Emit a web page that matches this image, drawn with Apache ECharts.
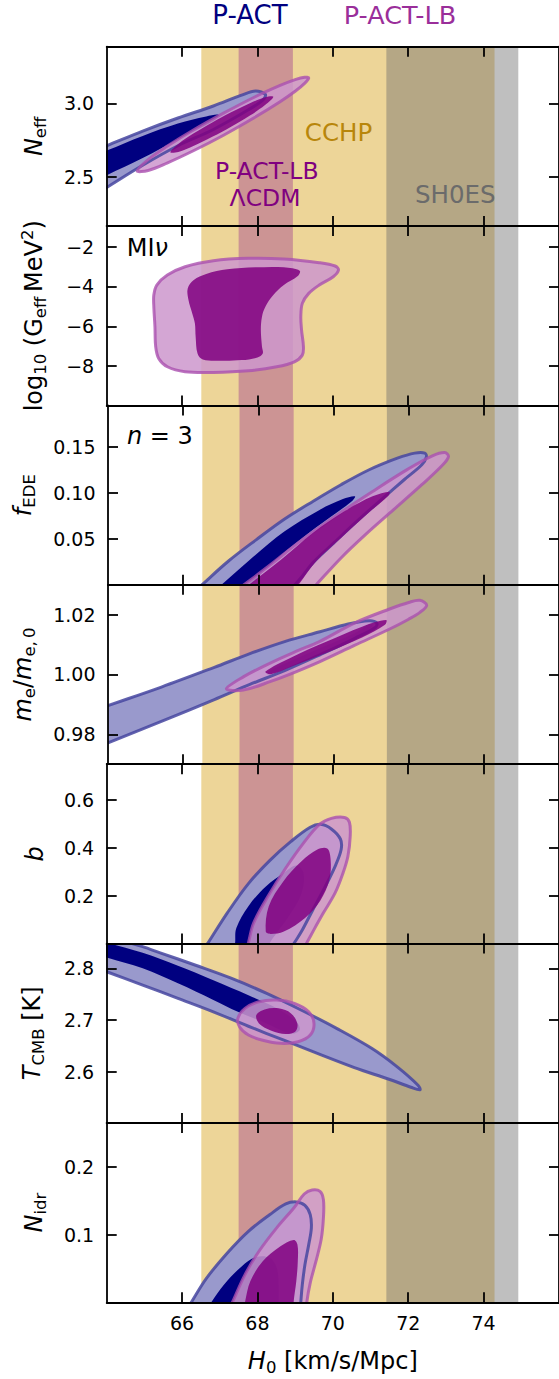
<!DOCTYPE html>
<html><head><meta charset="utf-8">
<script src="https://cdn.jsdelivr.net/npm/echarts@6/dist/echarts.min.js"></script>
<style>html,body{margin:0;padding:0;background:#fff}#c{width:559px;height:1379px}</style>
</head><body><div id="c"></div>
<script>
// ---------------- DATA ----------------
const H0_RANGE = [64, 76];
const H0_TICKS = [66, 68, 70, 72, 74];
const H0_TICK_LABELS = ['66', '68', '70', '72', '74'];

// 2-sigma H0 bands
const CCHP_BAND = [66.51, 74.29];
const LCDM_BAND = [67.50, 68.94];
const SH0ES_BAND = [71.42, 74.92];

// Panel y ranges, ticks and labels
const NEFF_RANGE = [2.164, 3.386];
const NEFF_TICKS = [2.5, 3.0];
const NEFF_TICK_LABELS = ['2.5', '3.0'];
const GEFF_RANGE = [-9.975, -0.965];
const GEFF_TICKS = [-8, -6, -4, -2];
const GEFF_TICK_LABELS = ['\u22128', '\u22126', '\u22124', '\u22122'];
const FEDE_RANGE = [0, 0.1955];
const FEDE_TICKS = [0.05, 0.10, 0.15];
const FEDE_TICK_LABELS = ['0.05', '0.10', '0.15'];
const ME_RANGE = [0.970, 1.030];
const ME_TICKS = [0.98, 1.00, 1.02];
const ME_TICK_LABELS = ['0.98', '1.00', '1.02'];
const B_RANGE = [0, 0.748];
const B_TICKS = [0.2, 0.4, 0.6];
const B_TICK_LABELS = ['0.2', '0.4', '0.6'];
const TCMB_RANGE = [2.501, 2.848];
const TCMB_TICKS = [2.6, 2.7, 2.8];
const TCMB_TICK_LABELS = ['2.6', '2.7', '2.8'];
const NIDR_RANGE = [0, 0.265];
const NIDR_TICKS = [0.1, 0.2];
const NIDR_TICK_LABELS = ['0.1', '0.2'];

// Contours [H0, parameter]; *_95 = outer, *_68 = inner
const NEFF_PACT_95 = [[63.5,2.66],[64.0,2.711],[64.955,2.811],[65.89,2.900],[66.83,2.982],[67.58,3.056],[67.95,3.084],[68.21,3.06],[68.14,3.022],[67.76,2.956],[66.83,2.822],[65.89,2.711],[64.955,2.578],[64.0,2.427],[63.5,2.348]];
const NEFF_PACT_68 = [[63.5,2.626],[64.0,2.678],[64.955,2.778],[65.89,2.862],[66.64,2.911],[66.97,2.922],[66.83,2.878],[65.89,2.756],[64.955,2.627],[64.0,2.511],[63.5,2.45]];
const NEFF_LB_95 = [[64.81,2.54],[65.1,2.617],[65.6,2.707],[66.3,2.818],[67.1,2.933],[67.9,3.040],[68.6,3.122],[69.0,3.162],[69.25,3.178],[69.36,3.172],[69.25,3.136],[69.0,3.082],[68.6,3.011],[67.9,2.900],[67.1,2.783],[66.3,2.677],[65.6,2.593],[65.1,2.543]];
const NEFF_LB_68 = [[65.69,2.667],[65.9,2.723],[66.3,2.794],[66.8,2.870],[67.3,2.939],[67.8,3.001],[68.2,3.042],[68.42,3.045],[68.2,2.988],[67.8,2.917],[67.3,2.841],[66.8,2.772],[66.3,2.710],[65.9,2.669]];

const GEFF_LB_95 = [[65.33,-3.927],[65.61,-3.425],[66.08,-3.006],[66.83,-2.704],[67.76,-2.587],[68.70,-2.620],[69.64,-2.804],[70.06,-2.972],[70.15,-3.173],[70.01,-3.508],[69.64,-3.927],[69.36,-4.346],[69.19,-4.849],[69.15,-5.519],[69.17,-6.190],[69.22,-7.028],[69.19,-7.447],[68.98,-7.782],[68.51,-8.033],[67.76,-8.234],[66.83,-8.318],[66.08,-8.285],[65.61,-8.033],[65.38,-7.614],[65.30,-7.028],[65.28,-6.022],[65.25,-5.017],[65.25,-4.430]];
const GEFF_LB_68 = [[66.15,-4.095],[66.31,-3.676],[66.64,-3.374],[67.20,-3.140],[67.95,-3.039],[68.70,-3.039],[69.12,-3.207],[69.07,-3.475],[68.70,-3.927],[68.42,-4.430],[68.21,-5.017],[68.12,-5.519],[68.09,-6.190],[68.12,-7.028],[68.14,-7.363],[68.0,-7.564],[67.58,-7.698],[67.01,-7.731],[66.55,-7.664],[66.41,-7.363],[66.36,-6.525],[66.34,-5.855],[66.27,-5.352],[66.17,-4.682]];

const FEDE_PACT_95 = [[65.96,-0.02],[66.50,0.0],[67.20,0.0257],[67.95,0.0493],[68.70,0.0717],[69.45,0.0909],[70.20,0.1091],[70.95,0.1254],[71.70,0.138],[72.16,0.1435],[72.43,0.1435],[72.47,0.1391],[72.35,0.1308],[71.88,0.1145],[71.32,0.0946],[70.67,0.071],[70.01,0.0457],[69.45,0.0239],[69.17,0.0094],[68.98,0.0004],[68.56,-0.02]];
const FEDE_PACT_68 = [[66.46,-0.02],[67.02,0.0],[67.76,0.0268],[68.70,0.0583],[69.64,0.0819],[70.25,0.0935],[70.57,0.0964],[70.48,0.0909],[69.92,0.0739],[69.17,0.0511],[68.42,0.0257],[67.81,0.0],[67.33,-0.02]];
const FEDE_LB_95 = [[66.97,-0.02],[67.62,0.0],[68.33,0.0221],[69.17,0.0493],[70.10,0.0764],[71.04,0.1018],[71.98,0.1261],[72.63,0.1406],[72.96,0.1442],[73.06,0.1399],[72.91,0.1308],[72.35,0.1091],[71.60,0.0819],[70.85,0.0547],[70.20,0.0293],[69.54,0.0],[69.09,-0.02]];
const FEDE_LB_68 = [[67.13,-0.02],[67.75,0.0],[68.61,0.0275],[69.45,0.0565],[70.29,0.0801],[71.04,0.0964],[71.49,0.1014],[71.46,0.0971],[70.95,0.079],[70.20,0.0511],[69.54,0.0257],[69.07,0.0],[68.70,-0.02]];

const ME_PACT_95 = [[63.5,0.9874],[64.0,0.9896],[65.42,0.9958],[66.83,1.0024],[67.76,1.0069],[68.70,1.0110],[69.64,1.0143],[70.39,1.0169],[70.95,1.018],[71.15,1.0173],[71.12,1.0158],[70.57,1.0121],[69.64,1.0066],[68.70,1.0013],[67.76,0.9966],[66.83,0.9916],[65.42,0.9843],[64.0,0.9771],[63.5,0.9746]];
const ME_PACT_68 = [[68.23,1.0007],[68.70,1.0036],[69.64,1.0088],[70.57,1.0138],[71.0,1.0171],[71.04,1.0162],[70.57,1.0118],[69.64,1.0062],[68.70,1.0018],[68.25,1.0]];
const ME_LB_95 = [[67.15,0.9952],[67.6,0.9992],[68.33,1.0039],[69.0,1.0077],[69.64,1.0111],[70.57,1.0173],[71.51,1.0220],[72.0,1.0241],[72.3,1.0248],[72.48,1.0232],[72.3,1.0208],[72.0,1.0185],[71.51,1.0153],[70.57,1.0098],[69.64,1.0043],[69.0,1.0009],[68.33,0.9977],[67.6,0.9948]];
const ME_LB_68 = [[68.19,1.001],[68.89,1.0058],[69.82,1.011],[70.76,1.016],[71.40,1.0182],[71.37,1.0166],[70.76,1.0124],[69.82,1.0073],[68.89,1.0027],[68.33,1.0001]];

const B_PACT_95 = [[66.47,-0.05],[66.69,0.003],[67.20,0.128],[67.76,0.250],[68.33,0.347],[68.89,0.426],[69.40,0.485],[69.68,0.497],[69.96,0.478],[70.20,0.436],[70.22,0.392],[70.06,0.322],[69.78,0.232],[69.45,0.135],[69.17,0.051],[68.98,0.003],[68.78,-0.05]];
const B_PACT_68 = [[67.41,-0.05],[67.41,0.010],[67.44,0.065],[67.76,0.156],[68.23,0.239],[68.70,0.294],[69.03,0.325],[69.22,0.294],[69.17,0.211],[68.89,0.128],[68.51,0.044],[68.33,0.003],[68.2,-0.05]];
const B_LB_95 = [[67.67,-0.05],[67.76,0.003],[67.90,0.086],[68.28,0.197],[68.75,0.315],[69.22,0.419],[69.64,0.496],[69.96,0.522],[70.31,0.526],[70.44,0.506],[70.46,0.447],[70.40,0.364],[70.27,0.294],[70.06,0.211],[69.75,0.128],[69.50,0.058],[69.31,0.003],[69.13,-0.05]];
const B_LB_68 = [[68.22,0.05],[68.30,0.156],[68.68,0.258],[69.17,0.343],[69.59,0.392],[69.85,0.396],[69.94,0.352],[69.91,0.267],[69.67,0.180],[69.27,0.108],[68.70,0.050],[68.35,0.040]];

const TCMB_PACT_95 = [[63.55,2.806],[64.0,2.7935],[64.955,2.7677],[65.89,2.742],[66.83,2.716],[67.76,2.688],[68.70,2.661],[69.64,2.634],[70.57,2.608],[71.51,2.585],[72.07,2.570],[72.31,2.565],[72.26,2.574],[71.70,2.610],[71.04,2.645],[70.10,2.684],[69.17,2.719],[68.23,2.752],[67.30,2.781],[66.36,2.806],[65.42,2.830],[64.955,2.842],[64.49,2.852],[64.0,2.863],[63.55,2.874]];
const TCMB_PACT_68 = [[63.55,2.832],[64.0,2.821],[64.955,2.80],[65.89,2.771],[66.83,2.739],[67.48,2.716],[68.23,2.694],[68.89,2.674],[69.12,2.681],[69.03,2.697],[68.51,2.723],[67.76,2.748],[66.83,2.777],[65.89,2.805],[64.955,2.830],[64.0,2.850],[63.55,2.861]];
const TCMB_LB_95 = [[67.48,2.7032],[67.67,2.7226],[68.04,2.7355],[68.51,2.7387],[68.98,2.7323],[69.36,2.7161],[69.50,2.6935],[69.40,2.671],[69.08,2.658],[68.61,2.655],[68.14,2.661],[67.76,2.671],[67.53,2.686]];
const TCMB_LB_68 = [[67.97,2.7097],[68.19,2.7206],[68.56,2.7226],[68.89,2.7129],[69.06,2.6923],[69.0,2.6774],[68.75,2.6729],[68.37,2.6794],[68.04,2.6935]];

const NIDR_PACT_95 = [[66.02,-0.02],[66.25,0.0005],[66.64,0.035],[67.20,0.0729],[67.76,0.1049],[68.33,0.1296],[68.75,0.1453],[69.03,0.1483],[69.26,0.1433],[69.40,0.1296],[69.43,0.1099],[69.36,0.0852],[69.26,0.0557],[69.19,0.0261],[69.15,0.0005],[69.12,-0.02]];
const NIDR_PACT_68 = [[66.55,-0.02],[66.78,0.0005],[67.11,0.026],[67.58,0.053],[67.95,0.0665],[68.33,0.0655],[68.51,0.0507],[68.56,0.0261],[68.56,0.0005],[68.56,-0.02]];
const NIDR_LB_95 = [[67.18,-0.02],[67.34,0.0005],[67.67,0.0409],[68.04,0.0754],[68.51,0.1099],[68.98,0.1404],[69.24,0.16],[69.45,0.166],[69.66,0.164],[69.75,0.1517],[69.75,0.1246],[69.69,0.0926],[69.54,0.0581],[69.40,0.0286],[69.31,0.0005],[69.28,-0.02]];
const NIDR_LB_68 = [[67.6,-0.02],[67.67,0.0005],[67.81,0.031],[68.14,0.0606],[68.61,0.0828],[68.96,0.0921],[69.06,0.0852],[69.07,0.0606],[69.03,0.031],[68.96,0.0005],[68.95,-0.02]];

// ---------------- CHART ----------------
const FONT = '"DejaVu Sans", "Liberation Sans", sans-serif';
const L = {left: 106.7, top: 46.7, width: 456.5, panelH: 179.37};
const C = {
  pact95: '#9999CC', pact68: '#000080', pactEdge: 'rgba(70,70,160,0.85)',
  lb95: 'rgba(204,150,204,0.85)', lb68: 'rgba(128,0,128,0.85)', lbEdge: 'rgba(170,80,175,0.8)',
  cchp: '#EDD598', lcdm: '#CC9494', shoes: 'rgba(111,111,111,0.444)'
};

const PANELS = [
  {range: NEFF_RANGE, ticks: NEFF_TICKS, labels: NEFF_TICK_LABELS, name: '{it|N}{sub|eff}', gap: 58, pact95: NEFF_PACT_95, pact68: NEFF_PACT_68, lb95: NEFF_LB_95, lb68: NEFF_LB_68},
  {range: GEFF_RANGE, ticks: GEFF_TICKS, labels: GEFF_TICK_LABELS, name: 'log{sub|10} (G{sub|eff}\u2009MeV{sup|2})', gap: 58, lb95: GEFF_LB_95, lb68: GEFF_LB_68},
  {range: FEDE_RANGE, ticks: FEDE_TICKS, labels: FEDE_TICK_LABELS, name: '{it|f}{sub|EDE}', gap: 70, pact95: FEDE_PACT_95, pact68: FEDE_PACT_68, lb95: FEDE_LB_95, lb68: FEDE_LB_68},
  {range: ME_RANGE, ticks: ME_TICKS, labels: ME_TICK_LABELS, name: '{it|m}{sub|e}/{it|m}{sub|e,\u20090}', gap: 70, pact95: ME_PACT_95, pact68: ME_PACT_68, lb95: ME_LB_95, lb68: ME_LB_68},
  {range: B_RANGE, ticks: B_TICKS, labels: B_TICK_LABELS, name: '{it|b}', gap: 57, pact95: B_PACT_95, pact68: B_PACT_68, lb95: B_LB_95, lb68: B_LB_68},
  {range: TCMB_RANGE, ticks: TCMB_TICKS, labels: TCMB_TICK_LABELS, name: '{it|T}{sub|CMB} [K]', gap: 60, pact95: TCMB_PACT_95, pact68: TCMB_PACT_68, lb95: TCMB_LB_95, lb68: TCMB_LB_68},
  {range: NIDR_RANGE, ticks: NIDR_TICKS, labels: NIDR_TICK_LABELS, name: '{it|N}{sub|idr}', gap: 58, pact95: NIDR_PACT_95, pact68: NIDR_PACT_68, lb95: NIDR_LB_95, lb68: NIDR_LB_68}
];

function lookup(ticks, labels, v) {
  const k = ticks.findIndex(t => Math.abs(t - v) < 1e-6);
  return k >= 0 ? labels[k] : '';
}
const nameStyle = {
  fontFamily: FONT, fontSize: 24, color: '#000', lineHeight: 30,
  rich: {
    it: {fontFamily: FONT, fontSize: 24, fontStyle: 'italic', lineHeight: 30, color: '#000'},
    sub: {fontFamily: FONT, fontSize: 16.5, lineHeight: 12, verticalAlign: 'bottom', color: '#000'},
    sup: {fontFamily: FONT, fontSize: 16.5, lineHeight: 12, verticalAlign: 'top', color: '#000'}
  }
};

const grids = [], xAxes = [], yAxes = [], series = [];
const axisLine = {show: true, onZero: false, lineStyle: {color: '#000', width: 1.8}};
const tickLine = {color: '#000', width: 1.8};

function polySeries(gi, pts, style, smooth) {
  return {
    type: 'custom', xAxisIndex: 2 * gi, yAxisIndex: 2 * gi, z: 2, clip: true, silent: true,
    data: [0],
    renderItem: function (params, api) {
      return {type: 'polygon', shape: {points: pts.map(d => api.coord(d)), smooth: smooth}, style: style};
    }
  };
}

PANELS.forEach((p, i) => {
  const last = i === PANELS.length - 1;
  grids.push({left: L.left, top: L.top + i * L.panelH, width: L.width, height: L.panelH});
  xAxes.push({
    gridIndex: i, type: 'value', position: 'bottom', min: H0_RANGE[0], max: H0_RANGE[1], z: 10,
    axisLine: axisLine,
    axisTick: {show: true, inside: true, length: 10, customValues: H0_TICKS, lineStyle: tickLine},
    axisLabel: {show: last, customValues: H0_TICKS, margin: 11, fontSize: 19, fontFamily: FONT, color: '#000',
      formatter: v => lookup(H0_TICKS, H0_TICK_LABELS, v)},
    splitLine: {show: false},
    name: last ? '{it|H}{sub|0} [km/s/Mpc]' : '', nameLocation: 'middle', nameGap: 44, nameTextStyle: nameStyle
  });
  xAxes.push({
    gridIndex: i, type: 'value', position: 'top', min: H0_RANGE[0], max: H0_RANGE[1], z: 10,
    axisLine: axisLine,
    axisTick: {show: true, inside: true, length: 10, customValues: H0_TICKS, lineStyle: tickLine},
    axisLabel: {show: false}, splitLine: {show: false}
  });
  yAxes.push({
    gridIndex: i, type: 'value', position: 'left', min: p.range[0], max: p.range[1], z: 10,
    axisLine: axisLine,
    axisTick: {show: true, inside: true, length: 10, customValues: p.ticks, lineStyle: tickLine},
    axisLabel: {show: true, customValues: p.ticks, margin: 12.5, fontSize: 19, fontFamily: FONT, color: '#000',
      formatter: v => lookup(p.ticks, p.labels, v)},
    splitLine: {show: false},
    name: p.name, nameLocation: 'middle', nameRotate: 90, nameGap: p.gap, nameTextStyle: nameStyle
  });
  yAxes.push({
    gridIndex: i, type: 'value', position: 'right', min: p.range[0], max: p.range[1], z: 10,
    axisLine: axisLine,
    axisTick: {show: true, inside: true, length: 10, customValues: p.ticks, lineStyle: tickLine},
    axisLabel: {show: false}, splitLine: {show: false}
  });
  // bands
  series.push({
    type: 'custom', xAxisIndex: 2 * i, yAxisIndex: 2 * i, z: 1, clip: true, silent: true, data: [0],
    renderItem: function (params, api) {
      const cs = params.coordSys;
      const rect = (b, color) => {
        const a = api.coord([b[0], p.range[0]]), c = api.coord([b[1], p.range[0]]);
        return {type: 'rect', shape: {x: a[0], y: cs.y, width: c[0] - a[0], height: cs.height}, style: {fill: color}};
      };
      return {type: 'group', children: [rect(CCHP_BAND, C.cchp), rect(LCDM_BAND, C.lcdm), rect(SH0ES_BAND, C.shoes)]};
    }
  });
  const sm = 0.35;
  if (p.pact95) series.push(polySeries(i, p.pact95, {fill: C.pact95}, sm));
  if (p.pact68) series.push(polySeries(i, p.pact68, {fill: C.pact68}, sm));
  if (p.lb95) series.push(polySeries(i, p.lb95, {fill: C.lb95}, sm));
  if (p.pact95) series.push(polySeries(i, p.pact95, {fill: 'none', stroke: C.pactEdge, lineWidth: 3}, sm));
  if (p.lb95) series.push(polySeries(i, p.lb95, {fill: 'none', stroke: C.lbEdge, lineWidth: 3}, sm));
  if (p.lb68) series.push(polySeries(i, p.lb68, {fill: C.lb68}, sm));
});

function txt(text, x, y, size, color, align, rich) {
  return {type: 'text', x: x, y: y, z: 100, silent: true,
    style: {text: text, fontSize: size, fontFamily: FONT, fill: color, align: align || 'center', verticalAlign: 'middle',
      rich: rich || {}}};
}
const itRich = {it: {fontStyle: 'italic', fontSize: 24, fontFamily: FONT, fill: '#000'}};
const graphic = [
  txt('P-ACT', 250, 14.5, 26, '#000080'),
  txt('P-ACT-LB', 400, 14.5, 25.5, '#9A2E9A'),
  txt('CCHP', 338.5, 132, 24.5, '#B8860B'),
  txt('P-ACT-LB', 266.8, 170.6, 23.5, '#800080'),
  txt('\u039BCDM', 265, 198.2, 23.5, '#800080'),
  txt('SH0ES', 455.2, 194, 24.5, '#6B6B6B'),
  txt('MI{it|\u03BD}', 126.7, 248, 24, '#000', 'left', itRich),
  txt('{it|n} = 3', 127, 436, 24, '#000', 'left', itRich)
];

const chart = echarts.init(document.getElementById('c'), null, {renderer: 'svg', width: 559, height: 1379});
chart.setOption({
  animation: false,
  backgroundColor: '#fff',
  grid: grids, xAxis: xAxes, yAxis: yAxes, series: series, graphic: graphic
});
</script></body></html>
